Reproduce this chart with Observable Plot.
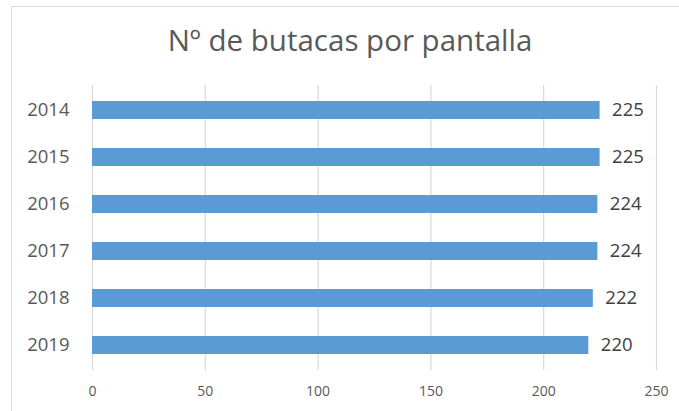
<!DOCTYPE html>
<html>
<head>
<meta charset="utf-8">
<script src="https://cdn.jsdelivr.net/npm/d3@7"></script>
<script src="https://cdn.jsdelivr.net/npm/@observablehq/plot@0.6"></script>
<style>
  html, body { margin: 0; padding: 0; background: #fff; }
  #wrap { position: relative; width: 679px; height: 411px; overflow: hidden; font-family: "Open Sans", sans-serif; }
  #frame { position: absolute; left: 11px; top: 6px; width: 700px; height: 420px;
           border-top: 1.5px solid #d9d9d9; border-left: 1.5px solid #d9d9d9; box-sizing: border-box; }
  #title { position: absolute; left: 0; width: 700px; top: 21px; text-align: center;
           font-size: 29.5px; color: #595959; line-height: 38px; }
  #chart { position: absolute; left: 0; top: 0; }
</style>
</head>
<body>
<div id="wrap">
  <div id="frame"></div>
  <div id="title">Nº de butacas por pantalla</div>
  <div id="chart"></div>
</div>
<script>
const years = ["2014", "2015", "2016", "2017", "2018", "2019"];
const seats = [225, 225, 224, 224, 222, 220];
const xTicks = [0, 50, 100, 150, 200, 250];

const data = years.map((y, i) => ({year: y, value: seats[i]}));

const chart = Plot.plot({
  width: 679,
  height: 411,
  marginLeft: 92,
  marginRight: 23,
  marginTop: 85,
  marginBottom: 41,
  style: {background: "transparent", color: "#595959", fontFamily: "Open Sans, sans-serif"},
  x: {domain: [0, 250], ticks: xTicks, axis: null, label: null},
  y: {domain: years, paddingInner: 0.61, paddingOuter: 0.305, axis: null, label: null},
  marks: [
    Plot.ruleX(xTicks, {stroke: "#d9d9d9", strokeWidth: 1.2}),
    Plot.barX(data, {y: "year", x: "value", fill: "#5B9BD5"}),
    Plot.text(data, {y: "year", x: "value", text: d => String(d.value), textAnchor: "start", dx: 12, fontSize: 18.5, fill: "#404040"}),
    Plot.axisY({tickSize: 0, tickPadding: 23, fontSize: 18.5, color: "#595959", label: null}),
    Plot.axisX({ticks: xTicks, tickSize: 0, tickPadding: 16, fontSize: 14, color: "#595959", anchor: "bottom", label: null})
  ]
});
document.getElementById("chart").appendChild(chart);
</script>
</body>
</html>
